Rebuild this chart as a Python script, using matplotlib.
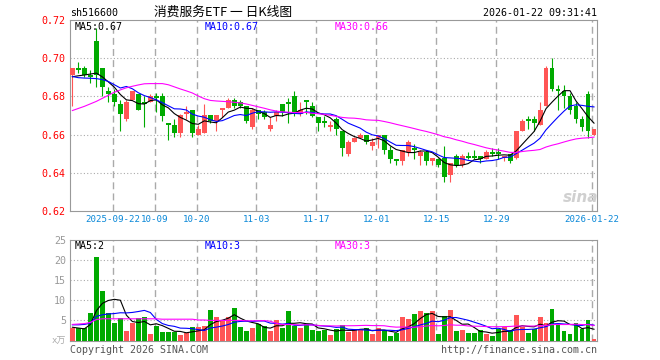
import numpy as np
import pandas as pd
import matplotlib
matplotlib.use('Agg')
from matplotlib import pyplot as plt

plt.rcParams['font.family'] = ['DejaVu Sans Mono', 'Noto Sans CJK SC']

# 交易日 2025-09-11 ~ 2026-01-22（国庆、元旦休市）
holidays = ['2025-10-01', '2025-10-02', '2025-10-03', '2025-10-06', '2025-10-07',
            '2025-10-08', '2026-01-01', '2026-01-02']
days = pd.bdate_range('2025-09-11', '2026-01-22')
days = days[~days.isin(pd.to_datetime(holidays))]

open_ = [0.691, 0.695, 0.695, 0.691, 0.709, 0.695, 0.683, 0.681, 0.676, 0.668,
         0.678, 0.681, 0.677, 0.677, 0.680, 0.680, 0.666, 0.665, 0.661, 0.671,
         0.673, 0.660, 0.661, 0.670, 0.667, 0.673, 0.674, 0.678, 0.677, 0.675,
         0.664, 0.673, 0.672, 0.663, 0.670, 0.676, 0.677, 0.680, 0.671, 0.678,
         0.675, 0.669, 0.667, 0.664, 0.668, 0.662, 0.650, 0.656, 0.658, 0.660,
         0.654, 0.658, 0.660, 0.652, 0.647, 0.646, 0.651, 0.653, 0.649, 0.651,
         0.646, 0.647, 0.648, 0.639, 0.649, 0.644, 0.649, 0.649, 0.649, 0.647,
         0.651, 0.651, 0.648, 0.650, 0.648, 0.662, 0.668, 0.668, 0.665, 0.675,
         0.695, 0.684, 0.683, 0.680, 0.675, 0.668, 0.681, 0.660]
high = [0.695, 0.698, 0.696, 0.694, 0.716, 0.695, 0.685, 0.684, 0.678, 0.678,
        0.683, 0.681, 0.680, 0.681, 0.682, 0.682, 0.666, 0.668, 0.671, 0.675,
        0.673, 0.665, 0.676, 0.670, 0.670, 0.674, 0.679, 0.679, 0.678, 0.675,
        0.674, 0.673, 0.673, 0.669, 0.673, 0.676, 0.679, 0.683, 0.677, 0.678,
        0.677, 0.669, 0.670, 0.667, 0.669, 0.662, 0.657, 0.659, 0.661, 0.660,
        0.658, 0.660, 0.660, 0.654, 0.647, 0.652, 0.657, 0.655, 0.652, 0.652,
        0.648, 0.648, 0.654, 0.645, 0.650, 0.650, 0.651, 0.652, 0.649, 0.652,
        0.653, 0.653, 0.649, 0.650, 0.662, 0.668, 0.670, 0.670, 0.677, 0.696,
        0.700, 0.686, 0.686, 0.682, 0.677, 0.670, 0.683, 0.663]
low = [0.675, 0.692, 0.690, 0.687, 0.685, 0.680, 0.677, 0.675, 0.662, 0.667,
       0.678, 0.673, 0.664, 0.677, 0.672, 0.667, 0.657, 0.659, 0.659, 0.668,
       0.659, 0.660, 0.661, 0.666, 0.662, 0.669, 0.674, 0.674, 0.674, 0.666,
       0.663, 0.668, 0.668, 0.662, 0.667, 0.670, 0.666, 0.670, 0.670, 0.671,
       0.669, 0.662, 0.664, 0.662, 0.660, 0.649, 0.649, 0.656, 0.658, 0.655,
       0.652, 0.653, 0.650, 0.645, 0.644, 0.644, 0.649, 0.647, 0.644, 0.644,
       0.644, 0.643, 0.635, 0.635, 0.643, 0.643, 0.647, 0.647, 0.645, 0.647,
       0.649, 0.647, 0.646, 0.645, 0.647, 0.662, 0.663, 0.662, 0.665, 0.675,
       0.683, 0.673, 0.674, 0.671, 0.666, 0.662, 0.658, 0.660]
close = [0.695, 0.694, 0.691, 0.690, 0.691, 0.685, 0.681, 0.677, 0.671, 0.677,
         0.683, 0.673, 0.676, 0.680, 0.679, 0.670, 0.665, 0.661, 0.670, 0.672,
         0.661, 0.663, 0.670, 0.667, 0.670, 0.674, 0.678, 0.675, 0.675, 0.667,
         0.673, 0.671, 0.669, 0.665, 0.672, 0.672, 0.676, 0.671, 0.673, 0.677,
         0.670, 0.666, 0.666, 0.665, 0.663, 0.653, 0.656, 0.658, 0.660, 0.656,
         0.656, 0.660, 0.652, 0.647, 0.646, 0.652, 0.656, 0.652, 0.651, 0.646,
         0.648, 0.644, 0.638, 0.645, 0.644, 0.649, 0.648, 0.648, 0.647, 0.651,
         0.650, 0.650, 0.649, 0.646, 0.662, 0.667, 0.667, 0.666, 0.673, 0.695,
         0.684, 0.683, 0.680, 0.673, 0.668, 0.664, 0.662, 0.663]
# 成交量（万手）
volume = [3.2, 3.2, 3.0, 6.8, 20.8, 12.4, 6.8, 4.4, 5.7, 2.3,
          4.4, 5.5, 5.8, 1.5, 3.6, 2.1, 2.1, 2.2, 1.3, 1.9,
          3.3, 3.3, 3.6, 7.6, 5.8, 4.9, 5.8, 8.0, 3.3, 2.3,
          3.0, 4.2, 3.6, 2.3, 5.2, 3.0, 7.3, 3.6, 3.0, 4.0,
          2.6, 2.4, 2.6, 1.3, 2.8, 3.8, 2.1, 2.6, 2.6, 3.2,
          1.6, 3.0, 2.6, 1.1, 1.9, 5.9, 5.4, 6.6, 7.4, 6.9,
          7.4, 1.6, 6.1, 7.6, 2.3, 2.6, 1.9, 1.9, 2.6, 1.6,
          1.1, 2.8, 3.3, 2.6, 6.3, 3.4, 1.9, 2.8, 5.9, 4.3,
          7.8, 3.8, 2.3, 1.6, 4.3, 2.8, 5.0, 0.3]

# 均线开头几天要用图外的历史数据，直接从原图读
ma5_head = [0.6903, 0.6908, 0.6912, 0.6917]
ma10_head = [0.6904, 0.6898, 0.6896, 0.6895, 0.6893, 0.6888, 0.6878, 0.6861, 0.6844]
ma30_head = [0.6726, 0.6737, 0.6748, 0.6761, 0.6774, 0.6790, 0.6806, 0.6822, 0.6834,
             0.6845, 0.6853, 0.6860, 0.6866, 0.6867, 0.6867, 0.6867, 0.6861, 0.6850,
             0.6839, 0.6829, 0.6818, 0.6802, 0.6788, 0.6779, 0.6776, 0.6774, 0.6772,
             0.6769, 0.6766]
vma5_head = [3.3, 3.1, 2.9, 4.0]
vma10_head = [3.9, 3.9, 4.0, 4.3, 6.0, 6.4, 6.6, 6.7, 6.9]
vma30_head = [4.0, 4.1, 4.2, 4.5, 5.2, 5.4, 5.4, 5.4, 5.4, 5.4, 5.4, 5.4, 5.4, 5.4,
              5.4, 5.3, 5.3, 5.3, 5.3, 5.3, 5.3, 5.1, 5.1, 5.0, 5.0, 5.0, 5.0, 5.0, 5.0]

tick_dates = ['2025-09-22', '2025-10-09', '2025-10-20', '2025-11-03', '2025-11-17',
              '2025-12-01', '2025-12-15', '2025-12-29', '2026-01-22']
tick_labels = ['2025-09-22', '10-09', '10-20', '11-03', '11-17',
               '12-01', '12-15', '12-29', '2026-01-22']


def moving_avg(values, n, head):
    s = pd.Series(values).rolling(n).mean()
    s.iloc[:n - 1] = head
    return s


ma5 = moving_avg(close, 5, ma5_head)
ma10 = moving_avg(close, 10, ma10_head)
ma30 = moving_avg(close, 30, ma30_head)
vma5 = moving_avg(volume, 5, vma5_head)
vma10 = moving_avg(volume, 10, vma10_head)
vma30 = moving_avg(volume, 30, vma30_head)

RED = '#ff5555'
GREEN = '#00aa00'
GRID = '#aaaaaa'
x = np.arange(len(days))
o = np.array(open_)
c = np.array(close)
up = c > o
colors = np.where(up, RED, GREEN)
# 新浪的日期竖线画在K线实体左边
ticks = [days.get_loc(pd.Timestamp(d)) - 0.3 for d in tick_dates]

W, H = 660, 360
fig = plt.figure(figsize=(6.6, 3.6), dpi=100)


def px(xp, yp):
    return xp / W, 1 - yp / H


ax = fig.add_axes([70 / W, 1 - 211 / H, 527 / W, 191 / H])
axv = fig.add_axes([70 / W, 1 - 340.5 / H, 527 / W, 100.5 / H])

# K线
ax.vlines(x, low, high, colors=colors, lw=0.8, zorder=3)
body = np.maximum(np.abs(c - o), 0.0004)
ax.bar(x, body, bottom=np.minimum(o, c), width=0.82, color=colors, lw=0, zorder=4)
ax.plot(x, ma5, color='black', lw=0.8, zorder=5)
ax.plot(x, ma10, color='#0000ff', lw=0.8, zorder=5)
ax.plot(x, ma30, color='#ff00ff', lw=0.8, zorder=5)

# 成交量
axv.bar(x, volume, width=0.82, color=colors, lw=0, zorder=3)
axv.plot(x, vma5, color='black', lw=0.8, zorder=5)
axv.plot(x, vma10, color='#0000ff', lw=0.8, zorder=5)
axv.plot(x, vma30, color='#ff00ff', lw=0.8, zorder=5)

for a in (ax, axv):
    a.set_xlim(-0.4, len(x) - 0.5)
    for t in ticks:
        a.axvline(t, color=GRID, lw=1, ls=(0, (5, 3)), zorder=1)
    for s in a.spines.values():
        s.set_color('#999999')
        s.set_linewidth(0.8)
    a.tick_params(length=0, pad=3)

ax.set_ylim(0.62, 0.72)
ax.set_yticks(np.arange(0.62, 0.7201, 0.02))
ax.set_yticklabels(['%.2f' % v for v in np.arange(0.62, 0.7201, 0.02)],
                   color='red', fontsize=7.2)
for v in np.arange(0.64, 0.7001, 0.02):
    ax.axhline(v, color=GRID, lw=0.8, ls=(0, (1, 2)), zorder=1)
ax.set_xticks(ticks)
ax.set_xticklabels(tick_labels, color='#0a88d8', fontsize=6.6)

axv.set_ylim(0, 25)
axv.set_yticks([5, 10, 15, 20, 25])
axv.set_yticklabels(['5', '10', '15', '20', '25'], color='#999999', fontsize=7.2)
for v in [5, 10, 15, 20]:
    axv.axhline(v, color=GRID, lw=0.8, ls=(0, (1, 2)), zorder=1)
axv.set_xticks([])

# 标题与图例
fs = 7.2
fig.text(*px(70, 13), 'sh516600', fontsize=fs, va='center')
fig.text(*px(223, 12), '消费服务ETF 一 日K线图', fontsize=9.2, ha='center', va='center',
         family=['Noto Sans CJK SC', 'DejaVu Sans'])
fig.text(*px(597, 13), '2026-01-22 09:31:41', fontsize=fs, ha='right', va='center')

fig.text(*px(75, 27), 'MA5:%.2f' % ma5.iloc[-1], fontsize=fs, va='center')
fig.text(*px(205, 27), 'MA10:%.2f' % ma10.iloc[-1], fontsize=fs, va='center', color='#0000ff')
fig.text(*px(335, 27), 'MA30:%.2f' % ma30.iloc[-1], fontsize=fs, va='center', color='#ff00ff')
fig.text(*px(75, 246), 'MA5:%d' % vma5.iloc[-1], fontsize=fs, va='center')
fig.text(*px(205, 246), 'MA10:%d' % vma10.iloc[-1], fontsize=fs, va='center', color='#0000ff')
fig.text(*px(335, 246), 'MA30:%d' % vma30.iloc[-1], fontsize=fs, va='center', color='#ff00ff')

fig.text(*px(66, 341), 'x万', fontsize=6.5, ha='right', va='center', color='#aaaaaa',
         family=['DejaVu Sans Mono', 'Noto Sans CJK SC'])
fig.text(*px(70, 350), 'Copyright 2026 SINA.COM', fontsize=fs, va='center', color='#555555')
fig.text(*px(597, 350), 'http://finance.sina.com.cn', fontsize=fs, ha='right', va='center',
         color='#555555')
fig.text(*px(581, 197), 'sina', fontsize=11, ha='center', va='center', color='#d0d0d0',
         fontweight='bold', style='italic', family='DejaVu Sans')

plt.savefig('out.png', dpi=100)
print('finish')
